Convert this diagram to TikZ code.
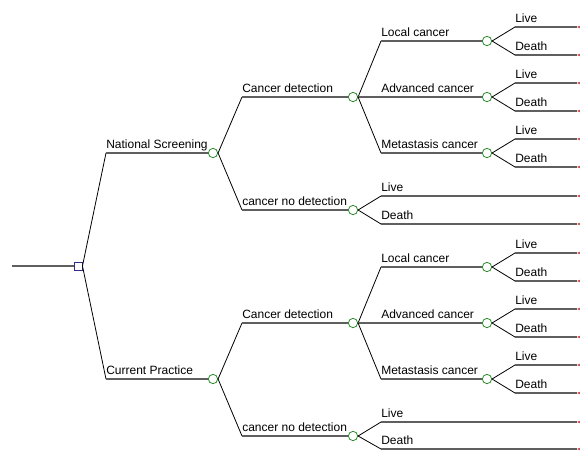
\documentclass[tikz,border=0pt]{standalone}
\usepackage{fontspec}
\setmainfont{Liberation Sans}
\usepackage{xcolor}
\usetikzlibrary{shapes.geometric}

\definecolor{chancegreen}{RGB}{40,140,40}
\definecolor{decblue}{RGB}{45,45,140}
\definecolor{termred}{RGB}{205,70,70}
\definecolor{linegray}{RGB}{95,95,95}

\begin{document}
\begin{tikzpicture}[x=0.75pt, y=-0.75pt,
  diag/.style={draw=black, line width=0.6pt},
  hline/.style={draw=linegray, line width=0.9pt},
  chance/.style={circle, draw=chancegreen, fill=white, line width=0.6pt, minimum size=7pt, inner sep=0pt},
  decision/.style={rectangle, draw=decblue, fill=white, line width=0.7pt, minimum size=6pt, inner sep=0pt},
  term/.style={isosceles triangle, shape border rotate=180, draw=termred, fill=termred, minimum width=4pt, minimum height=4pt, inner sep=0pt, anchor=apex},
  lbl/.style={anchor=base west, inner sep=0pt, yshift=3.75pt, font=\fontsize{9pt}{11pt}\selectfont}]
\useasboundingbox (0,0) rectangle (580,450);

% columns %
\coordinate (r) at (12,266);
\coordinate (k1) at (106,0);
\coordinate (k2) at (242,0);
\coordinate (k3) at (381,0);
\coordinate (k4) at (515,0);

% nodes %
\node[decision] (d) at (78,266) {};
\node[chance] (ns) at (213,153) {};
\node[chance] (cp) at (213,379) {};
\node[chance] (nscd) at (353,97) {};
\node[chance] (nsnd) at (353,210) {};
\node[chance] (cpcd) at (353,323) {};
\node[chance] (cpnd) at (353,436) {};
\node[chance] (nsl) at (487,41) {};
\node[chance] (nsa) at (487,97) {};
\node[chance] (nsm) at (487,153) {};
\node[chance] (cpl) at (487,267) {};
\node[chance] (cpa) at (487,323) {};
\node[chance] (cpm) at (487,379) {};

\node[term] (t1) at (577,27) {};
\node[term] (t2) at (577,55) {};
\node[term] (t3) at (577,83) {};
\node[term] (t4) at (577,111) {};
\node[term] (t5) at (577,139) {};
\node[term] (t6) at (577,167) {};
\node[term] (t7) at (577,196) {};
\node[term] (t8) at (577,224) {};
\node[term] (t9) at (577,253) {};
\node[term] (t10) at (577,281) {};
\node[term] (t11) at (577,309) {};
\node[term] (t12) at (577,337) {};
\node[term] (t13) at (577,365) {};
\node[term] (t14) at (577,393) {};
\node[term] (t15) at (577,422) {};
\node[term] (t16) at (577,449) {};

% labels %
\node[lbl] (ns-txt) at (ns -| k1) {National Screening};
\node[lbl] (cp-txt) at (cp -| k1) {Current Practice};
\node[lbl] (nscd-txt) at (nscd -| k2) {Cancer detection};
\node[lbl] (nsnd-txt) at (nsnd -| k2) {cancer no detection};
\node[lbl] (cpcd-txt) at (cpcd -| k2) {Cancer detection};
\node[lbl] (cpnd-txt) at (cpnd -| k2) {cancer no detection};
\node[lbl] (nsl-txt) at (nsl -| k3) {Local cancer};
\node[lbl] (nsa-txt) at (nsa -| k3) {Advanced cancer};
\node[lbl] (nsm-txt) at (nsm -| k3) {Metastasis cancer};
\node[lbl] (cpl-txt) at (cpl -| k3) {Local cancer};
\node[lbl] (cpa-txt) at (cpa -| k3) {Advanced cancer};
\node[lbl] (cpm-txt) at (cpm -| k3) {Metastasis cancer};
\node[lbl] (t1-txt) at (t1 -| k4) {Live};
\node[lbl] (t2-txt) at (t2 -| k4) {Death};
\node[lbl] (t3-txt) at (t3 -| k4) {Live};
\node[lbl] (t4-txt) at (t4 -| k4) {Death};
\node[lbl] (t5-txt) at (t5 -| k4) {Live};
\node[lbl] (t6-txt) at (t6 -| k4) {Death};
\node[lbl] (t7-txt) at (t7 -| k3) {Live};
\node[lbl] (t8-txt) at (t8 -| k3) {Death};
\node[lbl] (t9-txt) at (t9 -| k4) {Live};
\node[lbl] (t10-txt) at (t10 -| k4) {Death};
\node[lbl] (t11-txt) at (t11 -| k4) {Live};
\node[lbl] (t12-txt) at (t12 -| k4) {Death};
\node[lbl] (t13-txt) at (t13 -| k4) {Live};
\node[lbl] (t14-txt) at (t14 -| k4) {Death};
\node[lbl] (t15-txt) at (t15 -| k3) {Live};
\node[lbl] (t16-txt) at (t16 -| k3) {Death};

% edges %
\draw[hline] (r) -- (d);
\draw[diag] (d.east) -- (ns -| k1) edge[hline] (ns);
\draw[diag] (d.east) -- (cp -| k1) edge[hline] (cp);

\draw[diag] (ns.east) -- (nscd -| k2) edge[hline] (nscd);
\draw[diag] (ns.east) -- (nsnd -| k2) edge[hline] (nsnd);
\draw[diag] (cp.east) -- (cpcd -| k2) edge[hline] (cpcd);
\draw[diag] (cp.east) -- (cpnd -| k2) edge[hline] (cpnd);

\draw[diag] (nscd.east) -- (nsl -| k3) edge[hline] (nsl);
\draw[hline] (nscd.east) -- (nsa);
\draw[diag] (nscd.east) -- (nsm -| k3) edge[hline] (nsm);
\draw[diag] (cpcd.east) -- (cpl -| k3) edge[hline] (cpl);
\draw[hline] (cpcd.east) -- (cpa);
\draw[diag] (cpcd.east) -- (cpm -| k3) edge[hline] (cpm);

\draw[diag] (nsl.east) -- (t1 -| k4) edge[hline] (t1);
\draw[diag] (nsl.east) -- (t2 -| k4) edge[hline] (t2);
\draw[diag] (nsa.east) -- (t3 -| k4) edge[hline] (t3);
\draw[diag] (nsa.east) -- (t4 -| k4) edge[hline] (t4);
\draw[diag] (nsm.east) -- (t5 -| k4) edge[hline] (t5);
\draw[diag] (nsm.east) -- (t6 -| k4) edge[hline] (t6);
\draw[diag] (nsnd.east) -- (t7 -| k3) edge[hline] (t7);
\draw[diag] (nsnd.east) -- (t8 -| k3) edge[hline] (t8);
\draw[diag] (cpl.east) -- (t9 -| k4) edge[hline] (t9);
\draw[diag] (cpl.east) -- (t10 -| k4) edge[hline] (t10);
\draw[diag] (cpa.east) -- (t11 -| k4) edge[hline] (t11);
\draw[diag] (cpa.east) -- (t12 -| k4) edge[hline] (t12);
\draw[diag] (cpm.east) -- (t13 -| k4) edge[hline] (t13);
\draw[diag] (cpm.east) -- (t14 -| k4) edge[hline] (t14);
\draw[diag] (cpnd.east) -- (t15 -| k3) edge[hline] (t15);
\draw[diag] (cpnd.east) -- (t16 -| k3) edge[hline] (t16);
\end{tikzpicture}
\end{document}
